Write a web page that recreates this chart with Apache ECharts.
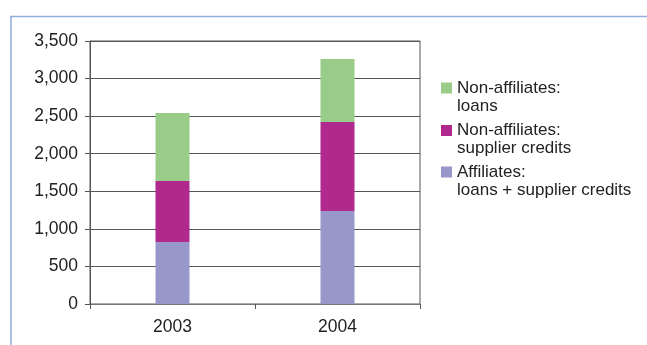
<!DOCTYPE html>
<html><head><meta charset="utf-8">
<script src="https://cdn.jsdelivr.net/npm/echarts@6/dist/echarts.min.js"></script>
<style>html,body{margin:0;padding:0;background:#fff}#c{width:647px;height:345px}</style>
</head><body><div id="c"></div>
<script>
var categories = ['2003', '2004'];
var affiliates = [825, 1238];
var nonAffSupplier = [812, 1184];
var nonAffLoans = [905, 838];
var yTicks = [0, 500, 1000, 1500, 2000, 2500, 3000, 3500];
var seriesNames = ['Affiliates:\nloans + supplier credits', 'Non-affiliates:\nsupplier credits', 'Non-affiliates:\nloans'];
var colors = ['#9797C9', '#B0298C', '#98CC88'];

var font = 'Liberation Sans, Arial, Helvetica, sans-serif';
var chart = echarts.init(document.getElementById('c'), null, {renderer: 'canvas'});
function legendAt(name, top) {
  return {
    data: [name], left: 441, top: top, orient: 'vertical', padding: 0,
    itemWidth: 11, itemHeight: 11, icon: 'rect', selectedMode: false,
    formatter: function (n) { return '\n' + n; },
    textStyle: {fontFamily: font, fontSize: 17, color: '#222', lineHeight: 18}
  };
}
chart.setOption({
  animation: false,
  grid: {left: 90, right: 227, top: 41, bottom: 41, show: true, borderColor: '#555', borderWidth: 1},
  legend: [legendAt(seriesNames[2], 61), legendAt(seriesNames[1], 103.5), legendAt(seriesNames[0], 145)],
  xAxis: {
    type: 'category', data: categories,
    axisLine: {lineStyle: {color: '#777', width: 1}},
    axisTick: {show: true, length: 5, lineStyle: {color: '#555'}},
    axisLabel: {fontFamily: font, fontSize: 17.5, color: '#222', margin: 14}
  },
  yAxis: {
    type: 'value', min: 0, max: 3500, interval: 500,
    axisLine: {show: true, lineStyle: {color: '#555'}},
    axisTick: {show: true, length: 5, lineStyle: {color: '#555'}},
    splitLine: {show: true, lineStyle: {color: '#555', width: 1}},
    axisLabel: {fontFamily: font, fontSize: 17.5, color: '#222', margin: 12,
      formatter: function (v) { return yTicks.indexOf(v) >= 0 ? v.toLocaleString('en-US') : ''; }}
  },
  series: [
    {name: seriesNames[0], type: 'bar', stack: 's', data: affiliates, barWidth: 34, itemStyle: {color: colors[0]}},
    {name: seriesNames[1], type: 'bar', stack: 's', data: nonAffSupplier, barWidth: 34, itemStyle: {color: colors[1]}},
    {name: seriesNames[2], type: 'bar', stack: 's', data: nonAffLoans, barWidth: 34, itemStyle: {color: colors[2]}}
  ],
  graphic: [
    {type: 'line', shape: {x1: 10, y1: 16.5, x2: 647, y2: 16.5}, style: {stroke: '#8EAEDC', lineWidth: 1.5}},
    {type: 'line', shape: {x1: 11, y1: 16, x2: 11, y2: 345}, style: {stroke: '#8EAEDC', lineWidth: 1.5}}
  ]
});
</script></body></html>
